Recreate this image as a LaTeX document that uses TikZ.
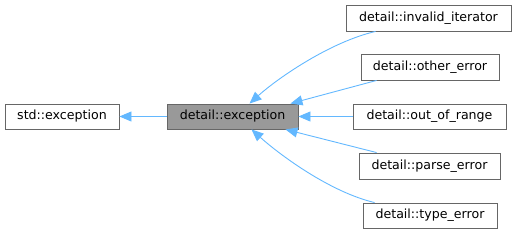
\documentclass[tikz,border=0pt]{standalone}
\usepackage{fontspec}
\setmainfont{DejaVu Sans}
\usetikzlibrary{arrows.meta,calc}
\definecolor{edgeblue}{HTML}{63B8FF}
\definecolor{boxborder}{HTML}{666666}
\definecolor{boxfill}{HTML}{999999}
\tikzset{
  cls/.style={draw=boxborder, line width=0.9pt, fill=white, minimum height=25pt, inner sep=0pt, font=\fontsize{12.6}{15}\selectfont},
  cur/.style={cls, fill=boxfill},
  inh/.style={draw=edgeblue, line width=0.9pt, {Triangle[length=12pt,width=10pt]}-}
}
\begin{document}
\begin{tikzpicture}[x=1pt,y=-1pt]
\useasboundingbox (0,0) rectangle (519,233);
\node[cls, minimum width=114pt] (std) at (62,116.5) {std::exception};
\node[cur, minimum width=131pt] (exc) at (232.5,116.5) {detail::exception};
\node[cls, minimum width=165pt, minimum height=26pt] (inv) at (428.5,18) {detail::invalid\_iterator};
\node[cls, minimum width=138pt, minimum height=26pt] (oth) at (430,67) {detail::other\_error};
\node[cls, minimum width=153pt] (oor) at (429.5,116.5) {detail::out\_of\_range};
\node[cls, minimum width=141pt, minimum height=26pt] (par) at (429.5,166) {detail::parse\_error};
\node[cls, minimum width=134pt] (typ) at (430,215.5) {detail::type\_error};

\draw[inh] (std.east) -- (exc.west);
\draw[inh] ($(exc.north)+(17,0)$) .. controls (278,78) and (330,42) .. ($(inv.south west)+(30,0)$);
\draw[inh] ($(exc.north east)+(-8,0)$) -- ($(oth.south west)+(16,0)$);
\draw[inh] (exc.east) -- (oor.west);
\draw[inh] ($(exc.south east)+(-13,0)$) -- ($(par.north west)+(18,0)$);
\draw[inh] ($(exc.south)+(19,0)$) .. controls (280,155) and (330,192) .. ($(typ.north west)+(12,0)$);
\end{tikzpicture}
\end{document}
